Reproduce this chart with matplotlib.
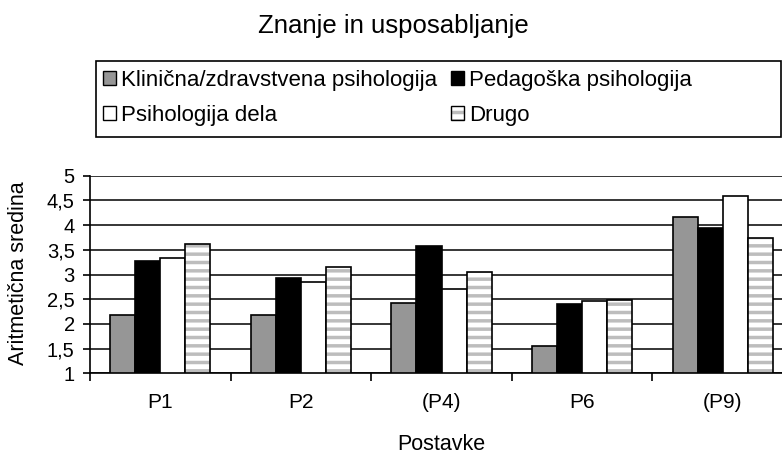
import numpy as np
import matplotlib
matplotlib.use('Agg')
import matplotlib.pyplot as plt
from matplotlib.patches import Rectangle, Patch

plt.rcParams['font.family'] = ['Liberation Sans', 'DejaVu Sans']
plt.rcParams['hatch.linewidth'] = 2.5

title = 'Znanje in usposabljanje'
categories = ['P1', 'P2', '(P4)', 'P6', '(P9)']
series_names = ['Klinična/zdravstvena psihologija', 'Pedagoška psihologija',
                'Psihologija dela', 'Drugo']
klinicna = [2.19, 2.19, 2.43, 1.56, 4.16]
pedagoska = [3.27, 2.92, 3.58, 2.40, 3.94]
psih_dela = [3.33, 2.84, 2.70, 2.46, 4.58]
drugo = [3.61, 3.16, 3.05, 2.49, 3.74]
y_ticks = [1, 1.5, 2, 2.5, 3, 3.5, 4, 4.5, 5]

W, H = 782, 455
fig = plt.figure(figsize=(W / 100, H / 100), dpi=100)
ax = fig.add_axes([90 / W, (H - 373.3) / H, 703 / W, 197.6 / H])

x = np.arange(len(categories))
bw = 0.178
gray = '#969696'
stripe = '#bdbdbd'

ax.bar(x - 1.5 * bw, klinicna, bw, color=gray, edgecolor='black', lw=1.2, zorder=2)
ax.bar(x - 0.5 * bw, pedagoska, bw, color='black', edgecolor='black', lw=1.2, zorder=2)
ax.bar(x + 0.5 * bw, psih_dela, bw, color='white', edgecolor='black', lw=1.2, zorder=2)
# striped bars: hatch layer, then black outline
ax.bar(x + 1.5 * bw, drugo, bw, color='white', edgecolor=stripe, hatch='--', lw=0, zorder=2)
ax.bar(x + 1.5 * bw, drugo, bw, color='none', edgecolor='black', lw=1.2, zorder=3)

ax.set_xlim(-0.5, len(categories) - 0.5)
ax.set_ylim(1, 5)
ax.set_yticks(y_ticks)
ax.set_yticklabels([('%g' % v).replace('.', ',') for v in y_ticks], fontsize=14.5)
ax.yaxis.grid(True, color='black', lw=1.1)
ax.set_axisbelow(True)

ax.set_xticks(np.arange(-0.5, len(categories)))
ax.set_xticklabels([])
ax.set_xticks(x, minor=True)
ax.set_xticklabels(categories, minor=True, fontsize=15)
ax.tick_params(axis='x', which='major', length=6, width=1.2, direction='out')
ax.tick_params(axis='x', which='minor', length=0, pad=14)
ax.tick_params(axis='y', length=5, width=1.2, direction='out', pad=6)

for s in ['top', 'right']:
    ax.spines[s].set_visible(False)
for s in ['left', 'bottom']:
    ax.spines[s].set_linewidth(1.2)

fig.text(393 / W, 1 - 33 / H, title, ha='center', va='baseline', fontsize=18.5)
fig.text(19 / W, 1 - 273 / H, 'Aritmetična sredina', rotation=90,
         ha='center', va='center', fontsize=15.5)
fig.text(441 / W, 1 - 450 / H, 'Postavke', ha='center', va='baseline', fontsize=15.5)

# legend
handles = [
    Patch(facecolor=gray, edgecolor='black', lw=1),
    Patch(facecolor='white', edgecolor='black', lw=1),
    Patch(facecolor='black', edgecolor='black', lw=1),
    (Patch(facecolor='white', edgecolor=stripe, hatch='--', lw=0),
     Patch(facecolor='none', edgecolor='black', lw=1)),
]
labels = [series_names[0], series_names[2], series_names[1], series_names[3]]
fig.legend(handles, labels, ncol=2, loc='upper left',
           bbox_to_anchor=(103 / W, 1 - 70 / H), frameon=False,
           fontsize=16, handlelength=0.58, handleheight=0.58,
           handletextpad=0.25, columnspacing=0.6, labelspacing=0.62,
           borderpad=0, borderaxespad=0)
fig.patches.append(Rectangle((96 / W, 1 - 137 / H), 685 / W, 76 / H,
                             transform=fig.transFigure, fill=False,
                             edgecolor='black', lw=1.2))

fig.savefig('out.png', dpi=100)
